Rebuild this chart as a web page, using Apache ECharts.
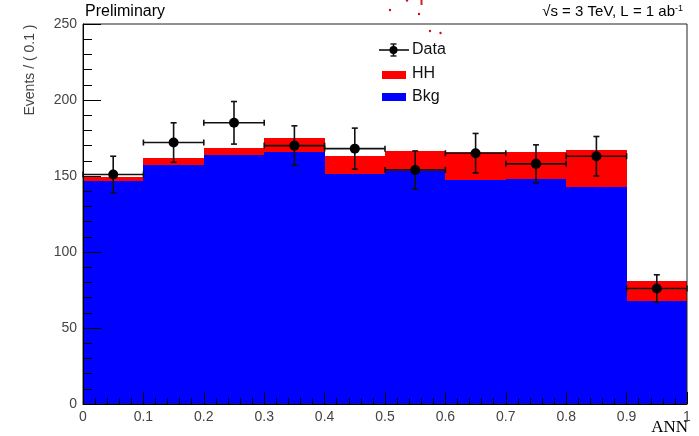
<!DOCTYPE html>
<html>
<head>
<meta charset="utf-8">
<script src="https://cdn.jsdelivr.net/npm/echarts@6/dist/echarts.min.js"></script>
<style>
  html, body { margin: 0; padding: 0; background: #fff; }
  #chart { width: 699px; height: 436px; }
</style>
</head>
<body>
<div id="chart"></div>
<script>
// ANN output histogram: stacked background + HH signal, with data points
const binEdges = [0, 0.1, 0.2, 0.3, 0.4, 0.5, 0.6, 0.7, 0.8, 0.9, 1.0];
const bkgCounts = [147, 157, 164, 166, 151, 153, 147.5, 148, 143, 67.5];
const hhCounts = [2.5, 5, 4.5, 9, 12, 13.5, 18.5, 18, 24, 13.5];
const dataCounts = [151, 172, 185, 170, 168, 154, 165, 158, 163, 76];
const dataErrors = [12, 13, 14, 13, 13.5, 12.5, 13, 12.5, 13, 9];
const yTicks = { min: 0, max: 250, step: 50 };
const xTicks = { min: 0, max: 1, step: 0.1 };

const FONT = '"Liberation Sans", Arial, Helvetica, sans-serif';
const BLUE = '#0000ff';
const RED = '#ff0000';
const INK = '#111';

// [low edge, high edge, base, top] per bin
const bkgData = bkgCounts.map((v, i) => [binEdges[i], binEdges[i + 1], 0, v]);
const hhData = hhCounts.map((v, i) => [binEdges[i], binEdges[i + 1], bkgCounts[i], bkgCounts[i] + v]);
// [low edge, high edge, count, error]
const pointData = dataCounts.map((v, i) => [binEdges[i], binEdges[i + 1], v, dataErrors[i]]);

function stackRect(color) {
  return function (params, api) {
    const p0 = api.coord([api.value(0), api.value(3)]);
    const p1 = api.coord([api.value(1), api.value(2)]);
    const x0 = Math.round(p0[0]), x1 = Math.round(p1[0]);
    const y0 = Math.round(p0[1]), y1 = Math.round(p1[1]);
    return {
      type: 'rect',
      shape: { x: x0, y: y0, width: x1 - x0, height: y1 - y0 },
      style: { fill: color }
    };
  };
}

function renderPoint(params, api) {
  const lo = api.value(0), hi = api.value(1), y = api.value(2), err = api.value(3);
  const left = api.coord([lo, y]);
  const right = api.coord([hi, y]);
  const mid = api.coord([(lo + hi) / 2, y]);
  const top = api.coord([(lo + hi) / 2, y + err]);
  const bot = api.coord([(lo + hi) / 2, y - err]);
  const ls = { stroke: INK, lineWidth: 1.6 };
  const cap = 3;
  return {
    type: 'group',
    children: [
      { type: 'line', shape: { x1: left[0], y1: mid[1], x2: right[0], y2: mid[1] }, style: ls },
      { type: 'line', shape: { x1: left[0], y1: mid[1] - cap, x2: left[0], y2: mid[1] + cap }, style: ls },
      { type: 'line', shape: { x1: right[0], y1: mid[1] - cap, x2: right[0], y2: mid[1] + cap }, style: ls },
      { type: 'line', shape: { x1: mid[0], y1: top[1], x2: mid[0], y2: bot[1] }, style: ls },
      { type: 'line', shape: { x1: mid[0] - cap, y1: top[1], x2: mid[0] + cap, y2: top[1] }, style: ls },
      { type: 'line', shape: { x1: mid[0] - cap, y1: bot[1], x2: mid[0] + cap, y2: bot[1] }, style: ls },
      { type: 'circle', shape: { cx: mid[0], cy: mid[1], r: 5 }, style: { fill: '#000' } }
    ]
  };
}

const axisLabelStyle = { color: '#444', fontSize: 14, fontFamily: FONT };

const chart = echarts.init(document.getElementById('chart'), null, { renderer: 'canvas' });
chart.setOption({
  animation: false,
  backgroundColor: '#fff',
  grid: {
    left: 83, right: 12, top: 24, bottom: 32,
    show: true, borderColor: '#222', borderWidth: 1, z: 10,
    backgroundColor: 'transparent'
  },
  xAxis: {
    type: 'value', min: xTicks.min, max: xTicks.max, interval: xTicks.step, z: 10,
    axisLine: { show: true, onZero: false, lineStyle: { color: '#000', width: 1 } },
    axisTick: { show: true, inside: true, length: 12, lineStyle: { color: '#000', width: 1 } },
    minorTick: { show: true, splitNumber: 5, length: 6, lineStyle: { color: '#000', width: 1 } },
    splitLine: { show: false },
    axisLabel: Object.assign({ margin: 6, formatter: v => String(+v.toFixed(1)) }, axisLabelStyle)
  },
  yAxis: {
    type: 'value', min: yTicks.min, max: yTicks.max, interval: yTicks.step, z: 10,
    axisLine: { show: true, onZero: false, lineStyle: { color: '#000', width: 1 } },
    axisTick: { show: true, inside: true, length: 18, lineStyle: { color: '#000', width: 1 } },
    minorTick: { show: true, splitNumber: 5, length: 9, lineStyle: { color: '#000', width: 1 } },
    splitLine: { show: false },
    axisLabel: Object.assign({ margin: 6 }, axisLabelStyle)
  },
  series: [
    {
      name: 'Bkg', type: 'custom', renderItem: stackRect(BLUE), data: bkgData,
      encode: { x: [0, 1], y: [2, 3] }, z: 2
    },
    {
      name: 'HH', type: 'custom', renderItem: stackRect(RED), data: hhData,
      encode: { x: [0, 1], y: [2, 3] }, z: 3
    },
    {
      name: 'Data', type: 'custom', renderItem: renderPoint, data: pointData,
      encode: { x: [0, 1], y: 2 }, z: 4
    }
  ],
  graphic: [
    {
      type: 'text', left: 85, top: 4,
      style: { text: 'Preliminary', font: '16px ' + FONT, fill: '#000' }
    },
    {
      type: 'text', right: 16, top: 4,
      style: {
        text: '√s = 3 TeV, L = 1 ab{sup|-1}',
        font: '15px ' + FONT, fill: '#000',
        rich: { sup: { fontSize: 9, verticalAlign: 'top', padding: [0, 0, 6, 0], fontFamily: FONT } }
      }
    },
    {
      type: 'text', x: 30, y: 70, rotation: Math.PI / 2,
      style: { text: 'Events / ( 0.1 )', font: '14px ' + FONT, fill: '#444', align: 'center', verticalAlign: 'middle' }
    },
    {
      type: 'text', x: 688, y: 436,
      style: { text: 'ANN', font: '17px "Liberation Serif", "Times New Roman", serif', fill: '#000', align: 'right', verticalAlign: 'bottom' }
    },
    // legend
    { type: 'line', shape: { x1: 379, y1: 50, x2: 409, y2: 50 }, style: { stroke: INK, lineWidth: 1.6 } },
    { type: 'line', shape: { x1: 393.5, y1: 44, x2: 393.5, y2: 56 }, style: { stroke: INK, lineWidth: 1.6 } },
    { type: 'line', shape: { x1: 390.5, y1: 44, x2: 396.5, y2: 44 }, style: { stroke: INK, lineWidth: 1.4 } },
    { type: 'line', shape: { x1: 390.5, y1: 56, x2: 396.5, y2: 56 }, style: { stroke: INK, lineWidth: 1.4 } },
    { type: 'circle', shape: { cx: 393.5, cy: 50, r: 4 }, style: { fill: '#000' } },
    { type: 'rect', shape: { x: 382, y: 71, width: 24, height: 8 }, style: { fill: RED } },
    { type: 'rect', shape: { x: 382, y: 93, width: 24, height: 8 }, style: { fill: BLUE } },
    { type: 'text', x: 412, y: 50, style: { text: 'Data', font: '16px ' + FONT, fill: INK, verticalAlign: 'middle' } },
    { type: 'text', x: 412, y: 74, style: { text: 'HH', font: '16px ' + FONT, fill: INK, verticalAlign: 'middle' } },
    { type: 'text', x: 412, y: 97, style: { text: 'Bkg', font: '16px ' + FONT, fill: INK, verticalAlign: 'middle' } },
    // small red specks above the frame
    { type: 'circle', shape: { cx: 390, cy: 10, r: 1.2 }, style: { fill: '#c0141e' } },
    { type: 'circle', shape: { cx: 419, cy: 14, r: 1.2 }, style: { fill: '#c0141e' } },
    { type: 'circle', shape: { cx: 407, cy: 0.5, r: 1.2 }, style: { fill: '#c0141e' } },
    { type: 'rect', shape: { x: 420.5, y: 0, width: 2, height: 5 }, style: { fill: '#d01e24' } },
    { type: 'circle', shape: { cx: 430, cy: 31, r: 1.2 }, style: { fill: '#c0141e' } },
    { type: 'circle', shape: { cx: 440.5, cy: 33, r: 1.2 }, style: { fill: '#c0141e' } }
  ]
});
</script>
</body>
</html>
